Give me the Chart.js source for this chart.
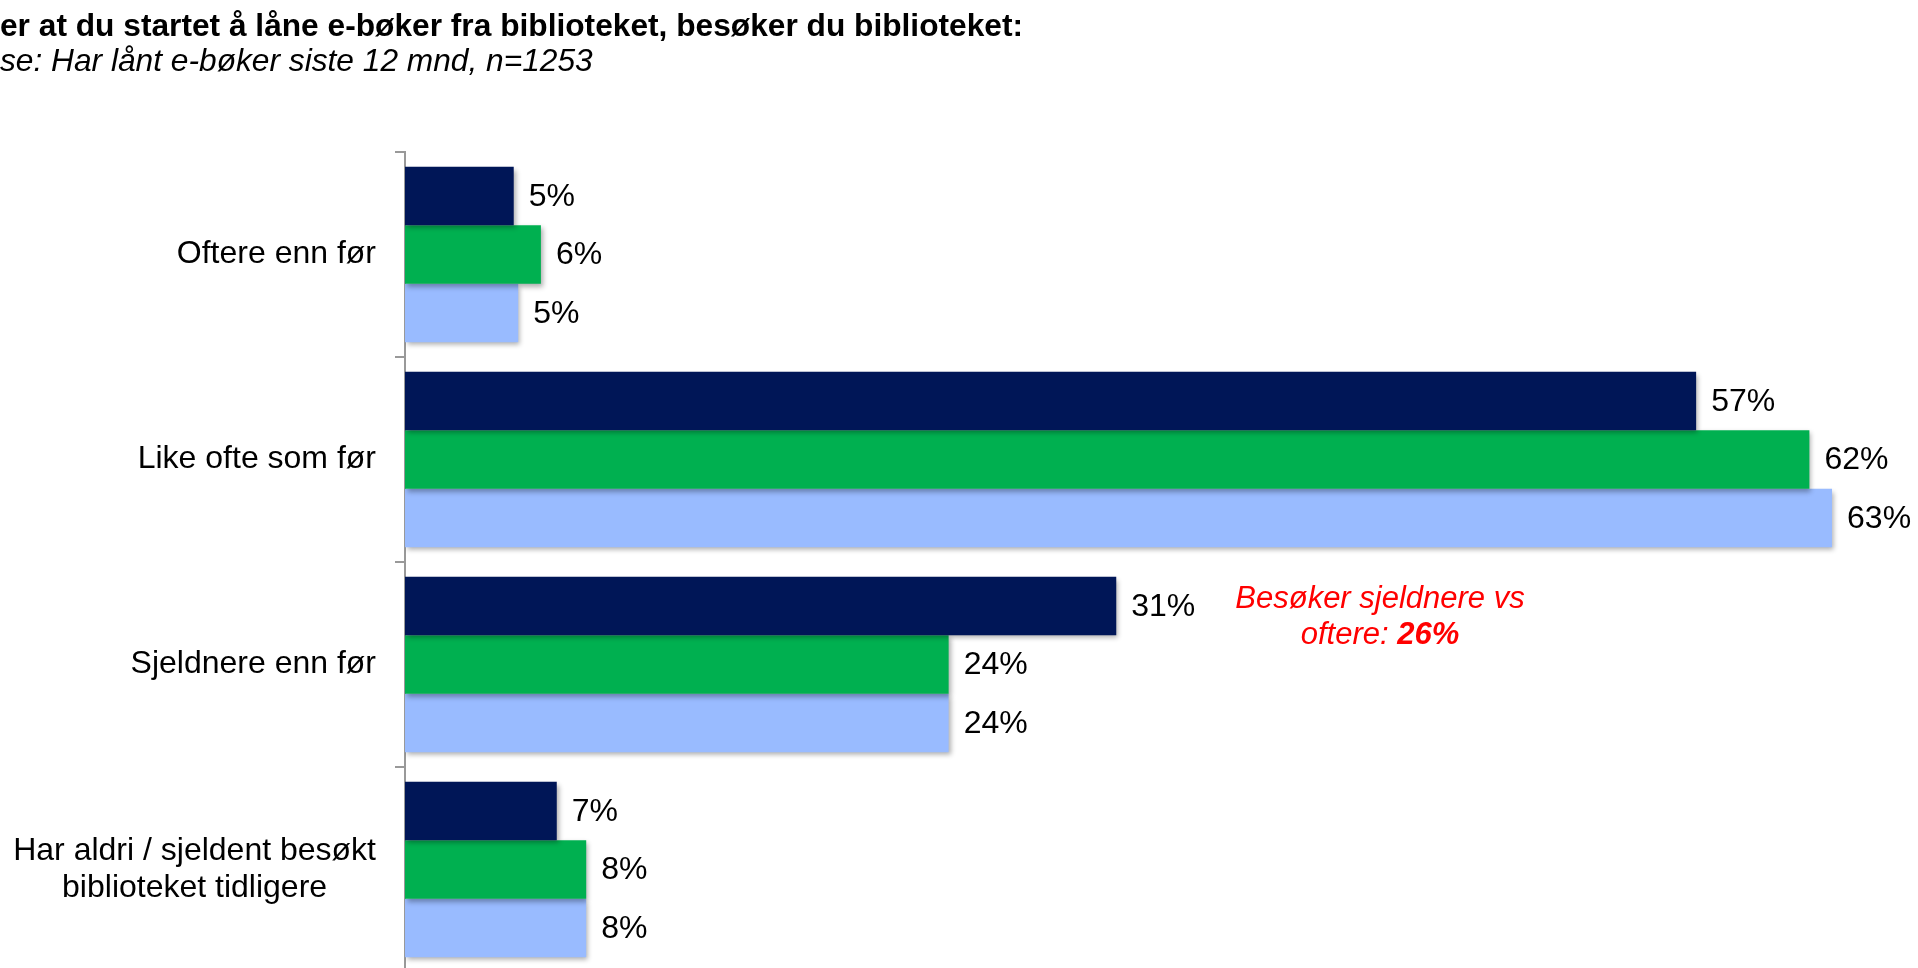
<!DOCTYPE html>
<html>
<head>
<meta charset="utf-8">
<script src="https://cdn.jsdelivr.net/npm/chart.js@4.4.1/dist/chart.umd.min.js"></script>
<style>
  html, body { margin: 0; padding: 0; background: #fff; overflow: hidden; }
  #wrap { position: relative; width: 1918px; height: 968px; overflow: hidden; }
  #chart { position: absolute; left: 0; top: 0; }
  .title { position: absolute; left: 0; white-space: nowrap; font-family: "Liberation Sans", Arial, sans-serif; font-size: 31.7px; line-height: 36px; color: #000; }
  #t1 { top: 7px; font-weight: bold; }
  #t2 { top: 42px; font-style: italic; }
</style>
</head>
<body>
<div id="wrap">
  <canvas id="chart" width="1918" height="980"></canvas>
  <div class="title" id="t1">er at du startet å låne e-bøker fra biblioteket, besøker du biblioteket:</div>
  <div class="title" id="t2">se: Har lånt e-bøker siste 12 mnd, n=1253</div>
</div>
<script>
// categories and values (percent)
const categories = [
  "Oftere enn før",
  "Like ofte som før",
  "Sjeldnere enn før",
  ["Har aldri / sjeldent besøkt", "biblioteket tidligere"],
];
const seriesNames = ["Serie 1", "Serie 2", "Serie 3"];
const navyValues = [4.8, 57, 31.4, 6.7];
const greenValues = [6, 62, 24, 8];
const lightValues = [5, 63, 24, 8];

const FONT = '"Liberation Sans", Arial, sans-serif';

// soft drop shadow under the bars
const barShadow = {
  id: "barShadow",
  beforeDatasetsDraw(chart) {
    const ctx = chart.ctx;
    ctx.save();
    ctx.shadowColor = "rgba(0,0,0,0.32)";
    ctx.shadowBlur = 5;
    ctx.shadowOffsetX = 2;
    ctx.shadowOffsetY = 3;
  },
  afterDatasetsDraw(chart) {
    chart.ctx.restore();
  },
};

// value labels at bar ends + category labels + red note
const textPlugin = {
  id: "textPlugin",
  afterDraw(chart) {
    const ctx = chart.ctx;
    const yScale = chart.scales.y;
    ctx.save();
    ctx.fillStyle = "#000";
    ctx.textBaseline = "middle";

    // value labels
    ctx.font = "32px " + FONT;
    ctx.textAlign = "left";
    chart.data.datasets.forEach((ds, i) => {
      const meta = chart.getDatasetMeta(i);
      meta.data.forEach((bar, j) => {
        ctx.fillText(Math.round(ds.data[j]) + "%", bar.x + 15, bar.y + 1);
      });
    });

    // category labels
    const right = 376;
    categories.forEach((label, i) => {
      const y = yScale.getPixelForValue(i);
      if (Array.isArray(label)) {
        const widest = Math.max(...label.map((l) => ctx.measureText(l).width));
        const lh = 37;
        ctx.textAlign = "center";
        label.forEach((line, k) => {
          ctx.fillText(line, right - widest / 2, y + (k - (label.length - 1) / 2) * lh);
        });
      } else {
        ctx.textAlign = "right";
        ctx.fillText(label, right, y);
      }
    });

    // red note
    ctx.fillStyle = "#FF0000";
    ctx.textAlign = "left";
    const cx = 1380;
    ctx.font = "italic 31px " + FONT;
    const l1 = "Besøker sjeldnere vs";
    ctx.fillText(l1, cx - ctx.measureText(l1).width / 2, 599);
    const a = "oftere: ";
    const b = "26%";
    const wa = ctx.measureText(a).width;
    ctx.font = "italic bold 31px " + FONT;
    const wb = ctx.measureText(b).width;
    const x0 = cx - (wa + wb) / 2;
    ctx.font = "italic 31px " + FONT;
    ctx.fillText(a, x0, 635);
    ctx.font = "italic bold 31px " + FONT;
    ctx.fillText(b, x0 + wa, 635);
    ctx.restore();
  },
};

const ctx = document.getElementById("chart").getContext("2d");
const chart = new Chart(ctx, {
  type: "bar",
  data: {
    labels: categories,
    datasets: [
      { label: seriesNames[0], data: navyValues, backgroundColor: "#001657" },
      { label: seriesNames[1], data: greenValues, backgroundColor: "#00B050" },
      { label: seriesNames[2], data: lightValues, backgroundColor: "#99BBFF" },
    ],
  },
  options: {
    indexAxis: "y",
    responsive: false,
    animation: false,
    devicePixelRatio: 1,
    barPercentage: 1,
    categoryPercentage: 0.857,
    layout: { padding: { top: 152, bottom: 8, left: 0, right: 18 } },
    plugins: {
      legend: { display: false },
      tooltip: { enabled: false },
    },
    scales: {
      x: { display: false, min: 0, max: 66 },
      y: {
        ticks: { display: false },
        grid: {
          display: true,
          drawOnChartArea: false,
          drawTicks: true,
          tickLength: 10,
          color: "#999999",
          lineWidth: 2,
        },
        border: { display: true, color: "#999999", width: 2 },
        afterFit(scale) {
          scale.width = 405;
        },
      },
    },
  },
  plugins: [barShadow, textPlugin],
});
</script>
</body>
</html>
